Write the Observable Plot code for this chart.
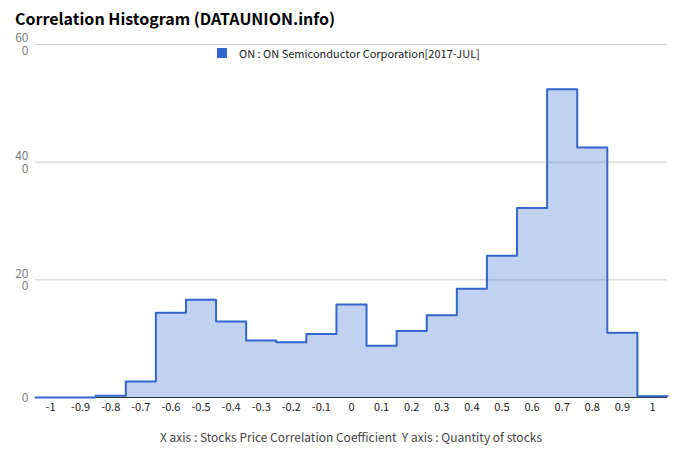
<!DOCTYPE html>
<html>
<head>
<meta charset="utf-8">
<script src="https://cdn.jsdelivr.net/npm/d3@7"></script>
<script src="https://cdn.jsdelivr.net/npm/@observablehq/plot@0.6"></script>
<style>
  body { margin: 0; background: #fff; }
  #wrap { position: relative; width: 680px; height: 462px; font-family: "Noto Sans CJK KR", "Noto Sans", sans-serif; }
  #title { position: absolute; left: 15px; top: 6px; font-size: 16px; font-weight: bold; color: #000; white-space: nowrap; z-index: 2; }
  #legend { position: absolute; left: 217px; top: 45px; font-size: 11px; color: #222; white-space: nowrap; display: flex; align-items: center; z-index: 2; }
  #legend .sw { width: 10px; height: 10px; background: #3366cc; margin-right: 12px; }
  #caption { position: absolute; left: 0; width: 702px; top: 428px; text-align: center; font-size: 12px; color: #444; white-space: pre; z-index: 2; }
  svg { position: absolute; left: 0; top: 0; }
</style>
</head>
<body>
<div id="wrap">
  <div id="title"></div>
  <div id="legend"><div class="sw"></div><span id="legtext"></span></div>
  <div id="caption"></div>
</div>
<script>
const title = "Correlation Histogram (DATAUNION.info)";
const seriesName = "ON : ON Semiconductor Corporation[2017-JUL]";
const caption = "X axis : Stocks Price Correlation Coefficient  Y axis : Quantity of stocks";

// bin centers (correlation coefficient)
const bins = [-1, -0.9, -0.8, -0.7, -0.6, -0.5, -0.4, -0.3, -0.2, -0.1, 0, 0.1, 0.2, 0.3, 0.4, 0.5, 0.6, 0.7, 0.8, 0.9, 1];
// quantity of stocks per bin
const counts = [0, 0, 0.3, 2.7, 14.4, 16.6, 12.9, 9.7, 9.4, 10.8, 15.8, 8.8, 11.3, 14.0, 18.5, 24.1, 32.2, 52.4, 42.5, 11.0, 0.2];
const binWidth = 0.1;

const xTicks = bins;
const xTickLabels = ["-1", "-0.9", "-0.8", "-0.7", "-0.6", "-0.5", "-0.4", "-0.3", "-0.2", "-0.1", "0", "0.1", "0.2", "0.3", "0.4", "0.5", "0.6", "0.7", "0.8", "0.9", "1"];
const yTicks = [0, 20, 40, 60];
const yTickLabels = ["0", "20\n0", "40\n0", "60\n0"];

document.getElementById("title").textContent = title;
document.getElementById("legtext").textContent = seriesName;
document.getElementById("caption").textContent = caption;

// step table: left edge of each bin, plus the right edge of the last bin
const steps = bins.map((c, i) => ({x: c - binWidth / 2, y: counts[i]}));
steps.push({x: bins[bins.length - 1] + binWidth / 2, y: counts[counts.length - 1]});

const chart = Plot.plot({
  width: 680,
  height: 462,
  marginTop: 44,
  marginBottom: 65,
  marginLeft: 35,
  marginRight: 13,
  style: {fontFamily: '"Noto Sans CJK KR", "Noto Sans", sans-serif', background: "transparent"},
  x: {domain: [-1.05, 1.05], label: null},
  y: {domain: [0, 60], label: null},
  marks: [
    Plot.gridY(yTicks, {stroke: "#cccccc", strokeOpacity: 1, strokeWidth: 1}),
    Plot.areaY(steps, {x: "x", y: "y", curve: "step-after", fill: "#3366cc", fillOpacity: 0.3}),
    Plot.ruleY([0], {stroke: "#333333", strokeWidth: 1}),
    Plot.lineY(steps, {x: "x", y: "y", curve: "step-after", stroke: "#3366cc", strokeWidth: 2, strokeLinejoin: "round"}),
    Plot.axisY(yTicks, {label: null, tickSize: 0, tickPadding: 7, fontSize: 12, lineHeight: 1.05, fill: "#808080", tickFormat: (d, i) => yTickLabels[i]}),
    Plot.axisX(xTicks, {label: null, tickSize: 0, tickPadding: 6, fontSize: 11, fill: "#222222", tickFormat: (d, i) => xTickLabels[i]})
  ]
});
document.getElementById("wrap").prepend(chart);
</script>
</body>
</html>
